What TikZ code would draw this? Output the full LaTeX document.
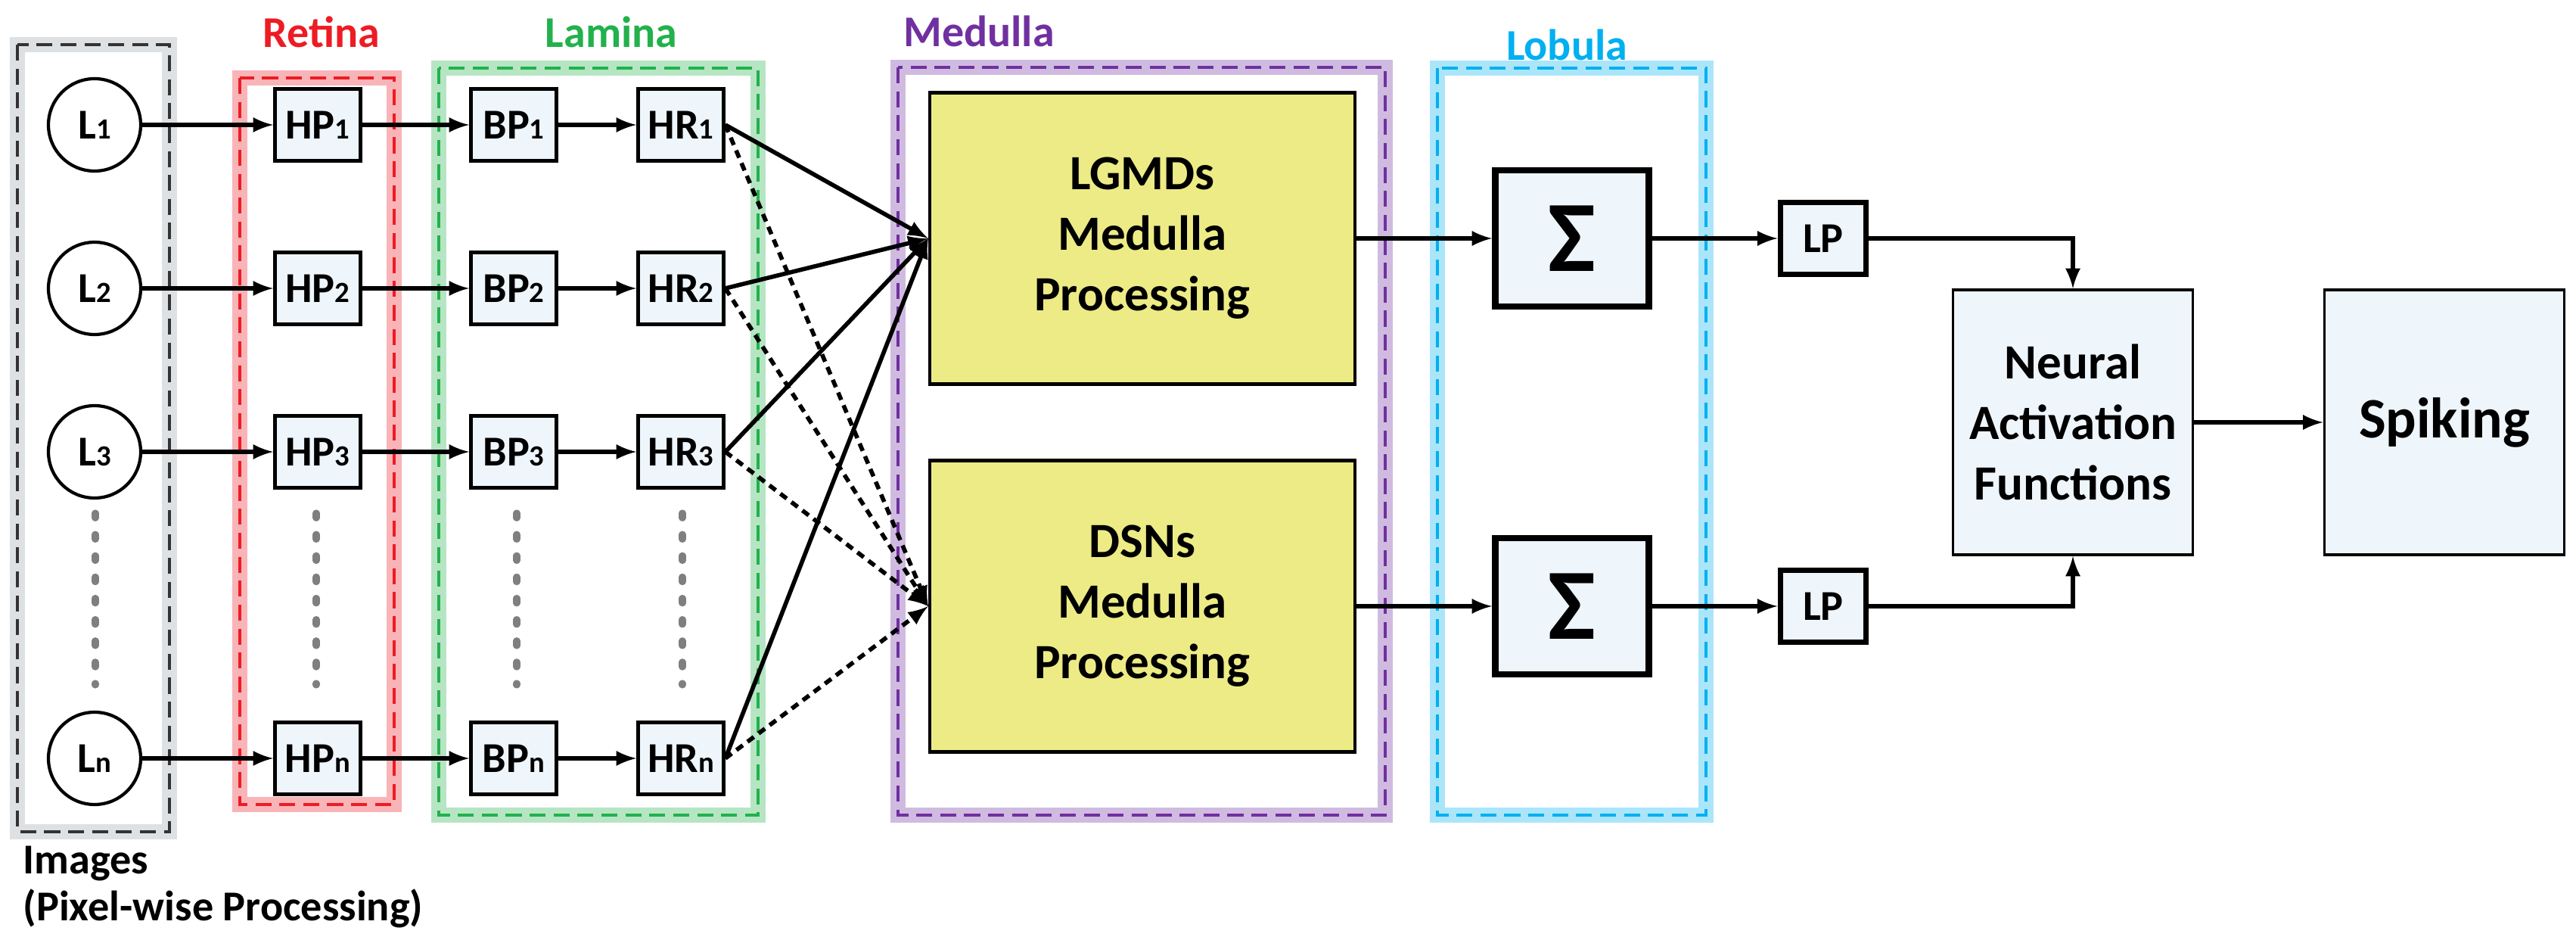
\documentclass[tikz,border=0pt]{standalone}
\usepackage{fontspec}
\setmainfont{Carlito}
\usepackage{xcolor}
\usepackage{tikz}
\usetikzlibrary{shapes,arrows}
\usetikzlibrary{positioning}
\usetikzlibrary{calc}
\definecolor{retinared}{HTML}{ED1C24}
\definecolor{laminagreen}{HTML}{22B14C}
\definecolor{medullapurple}{HTML}{7030A0}
\definecolor{lobulablue}{HTML}{00B0F0}
\definecolor{framegray}{HTML}{9AA3AD}
\definecolor{boxfill}{HTML}{EEF5FB}
\definecolor{medfill}{HTML}{EDEB85}
\definecolor{dotgray}{HTML}{7F7F7F}
\tikzstyle{every node}=[font=\fontsize{16}{17.6}\selectfont\bfseries]
\tikzstyle{pixel}=[draw, circle, fill=white, line width=1.2pt, minimum size=1.22cm, inner sep=0pt]
\tikzstyle{cell}=[draw, rectangle, fill=boxfill, line width=1.3pt, minimum width=1.13cm, minimum height=0.95cm, inner sep=0pt]
\tikzstyle{lpbox}=[cell, line width=2.2pt]
\tikzstyle{medbox}=[draw, rectangle, fill=medfill, line width=1.2pt, minimum width=5.62cm, minimum height=3.85cm, align=center, font=\fontsize{18.5}{22.8}\selectfont\bfseries]
\tikzstyle{sumbox}=[draw, rectangle, fill=boxfill, line width=2.4pt, minimum width=2.03cm, minimum height=1.8cm, font=\fontsize{38}{38}\selectfont\bfseries]
\tikzstyle{bigbox}=[draw, rectangle, fill=boxfill, line width=1pt, minimum width=3.17cm, minimum height=3.5cm, align=center, font=\fontsize{18.5}{22.8}\selectfont\bfseries]
\tikzstyle{conn}=[line width=1.6pt, -latex]
\tikzstyle{dconn}=[conn, dash pattern=on 3pt off 2.2pt]
\tikzstyle{glow}=[line width=0.2cm, opacity=0.33]
\tikzstyle{frame}=[line width=0.9pt, dash pattern=on 6pt off 3pt]
\tikzstyle{vdots}=[line width=2.6pt, dotgray, line cap=round, dash pattern=on 1.8pt off 6.2pt]
\tikzstyle{title}=[font=\fontsize{16.5}{18}\selectfont\bfseries]
\newcommand{\lowidx}[1]{{\fontsize{11}{11}\selectfont #1}}

\begin{document}
\begin{tikzpicture}
\useasboundingbox (0,0) rectangle (34.05,-12.42);

% group frames
\draw [glow, framegray] (0.23,-0.59) rectangle (2.24,-10.99);
\draw [frame, black!80] (0.23,-0.59) rectangle (2.24,-10.99);
\draw [glow, retinared] (3.17,-1.03) rectangle (5.21,-10.63);
\draw [frame, retinared] (3.17,-1.03) rectangle (5.21,-10.63);
\draw [glow, laminagreen] (5.80,-0.90) rectangle (10.02,-10.77);
\draw [frame, laminagreen] (5.80,-0.90) rectangle (10.02,-10.77);
\draw [glow, medullapurple] (11.87,-0.89) rectangle (18.31,-10.77);
\draw [frame, medullapurple] (11.87,-0.89) rectangle (18.31,-10.77);
\draw [glow, lobulablue] (19.00,-0.90) rectangle (22.55,-10.77);
\draw [frame, lobulablue] (19.00,-0.90) rectangle (22.55,-10.77);

\node [title, retinared] (retina) at (4.25,-0.42) {Retina};
\node [title, laminagreen] (lamina) at (8.08,-0.42) {Lamina};
\node [title, medullapurple] (medulla) at (12.94,-0.41) {Medulla};
\node [title, lobulablue] (lobula) at (20.71,-0.59) {Lobula};
\node [anchor=north west, inner sep=0pt, align=left] (images) at (0.30,-11.17) {Images\\(Pixel-wise Processing)};

% pixels
\node [pixel] (L1) at (1.25,-1.65) {L\lowidx{1}};
\node [pixel] (L2) at (1.25,-3.81) {L\lowidx{2}};
\node [pixel] (L3) at (1.25,-5.97) {L\lowidx{3}};
\node [pixel] (Ln) at (1.25,-10.02) {L\lowidx{n}};

% retina
\node [cell] (HP1) at (4.20,-1.65) {HP\lowidx{1}};
\node [cell] (HP2) at (4.20,-3.81) {HP\lowidx{2}};
\node [cell] (HP3) at (4.20,-5.97) {HP\lowidx{3}};
\node [cell] (HPn) at (4.20,-10.02) {HP\lowidx{n}};

% lamina
\node [cell] (BP1) at (6.79,-1.65) {BP\lowidx{1}};
\node [cell] (BP2) at (6.79,-3.81) {BP\lowidx{2}};
\node [cell] (BP3) at (6.79,-5.97) {BP\lowidx{3}};
\node [cell] (BPn) at (6.79,-10.02) {BP\lowidx{n}};
\node [cell] (HR1) at (9.00,-1.65) {HR\lowidx{1}};
\node [cell] (HR2) at (9.00,-3.81) {HR\lowidx{2}};
\node [cell] (HR3) at (9.00,-5.97) {HR\lowidx{3}};
\node [cell] (HRn) at (9.00,-10.02) {HR\lowidx{n}};

\draw [vdots] (1.26,-6.78) -- (1.26,-9.05);
\draw [vdots] (4.18,-6.78) -- (4.18,-9.05);
\draw [vdots] (6.83,-6.78) -- (6.83,-9.05);
\draw [vdots] (9.02,-6.78) -- (9.02,-9.05);

% medulla, lobula and output
\node [medbox] (LGMD) at (15.10,-3.15) {LGMDs\\Medulla\\Processing};
\node [medbox] (DSN) at (15.10,-8.01) {DSNs\\Medulla\\Processing};
\node [sumbox] (S1) at (20.78,-3.15) {Σ};
\node [sumbox] (S2) at (20.78,-8.01) {Σ};
\node [lpbox] (LP1) at (24.10,-3.15) {LP};
\node [lpbox] (LP2) at (24.10,-8.01) {LP};
\node [bigbox] (NAF) at (27.40,-5.58) {Neural\\Activation\\Functions};
\node [bigbox, font=\fontsize{21.5}{24}\selectfont\bfseries] (spiking) at (32.31,-5.58) {Spiking};

\draw [conn] (L1) -- (HP1);
\draw [conn] (L2) -- (HP2);
\draw [conn] (L3) -- (HP3);
\draw [conn] (Ln) -- (HPn);
\draw [conn] (HP1) -- (BP1);
\draw [conn] (HP2) -- (BP2);
\draw [conn] (HP3) -- (BP3);
\draw [conn] (HPn) -- (BPn);
\draw [conn] (BP1) -- (HR1);
\draw [conn] (BP2) -- (HR2);
\draw [conn] (BP3) -- (HR3);
\draw [conn] (BPn) -- (HRn);

\draw [conn] (HR1.east) -- (LGMD.west);
\draw [conn] (HR2.east) -- (LGMD.west);
\draw [conn] (HR3.east) -- (LGMD.west);
\draw [conn] (HRn.east) -- (LGMD.west);
\draw [dconn] (HR1.east) -- (DSN.west);
\draw [dconn] (HR2.east) -- (DSN.west);
\draw [dconn] (HR3.east) -- (DSN.west);
\draw [dconn] (HRn.east) -- (DSN.west);

\draw [conn] (LGMD) -- (S1);
\draw [conn] (DSN) -- (S2);
\draw [conn] (S1) -- (LP1);
\draw [conn] (S2) -- (LP2);
\draw [conn] (LP1) -| (NAF);
\draw [conn] (LP2) -| (NAF);
\draw [conn] (NAF) -- (spiking);
\end{tikzpicture}
\end{document}
